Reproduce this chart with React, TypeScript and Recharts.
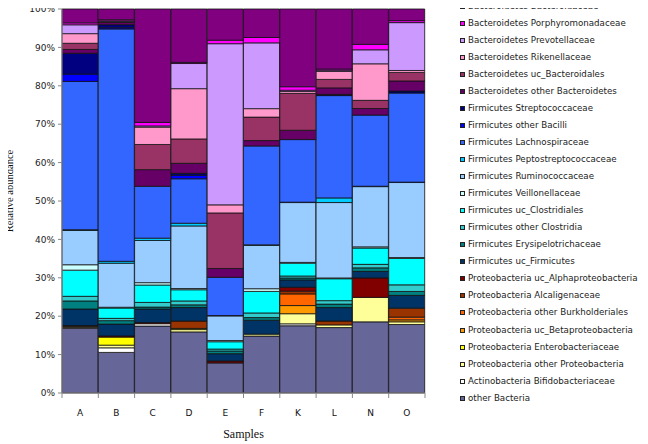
import React from 'react';
import { BarChart, Bar, XAxis, YAxis, Label } from 'recharts';

const categories = ['A', 'B', 'C', 'D', 'E', 'F', 'K', 'L', 'N', 'O'];

// values (%) per sample, in category order
const otherBacteria = [16.8, 10.6, 17.3, 15.8, 7.8, 14.8, 17.3, 17.0, 18.3, 17.6];
const bifidobacteriaceae = [0.2, 1.2, 0.6, 0, 0, 0, 0.5, 0, 0, 0];
const otherProteobacteria = [0.3, 0.7, 0, 0.6, 0, 0.5, 2.6, 0.7, 6.3, 0.7];
const enterobacteriaceae = [0, 2.1, 0, 0.3, 0, 0, 0, 0, 0, 0];
const ucBetaproteobacteria = [0, 0, 0, 0, 0, 0, 2.1, 0, 0, 0.5];
const otherBurkholderiales = [0, 0, 0, 0, 0, 0, 3.0, 0, 0, 0.7];
const alcaligenaceae = [0, 0, 0, 1.9, 0, 0, 0.7, 1.0, 0, 2.3];
const ucAlphaproteobacteria = [0.2, 0.3, 0.3, 0, 0.5, 0, 1.0, 0, 5.0, 0];
const ucFirmicutes = [4.3, 3.1, 3.5, 3.5, 1.9, 3.6, 1.9, 3.5, 1.7, 3.3];
const erysipelotrichaceae = [2.1, 0.9, 0.5, 0.7, 0.7, 0.7, 0.5, 0.9, 0.9, 1.0];
const otherClostridia = [1.2, 0.6, 1.2, 1.0, 0.5, 1.2, 0.5, 0.9, 0.9, 1.7];
const ucClostridiales = [6.8, 2.7, 4.5, 2.9, 1.9, 5.6, 3.3, 5.7, 4.2, 6.8];
const veillonellaceae = [1.4, 0.2, 0.6, 0.3, 0.3, 0.7, 0.2, 0.2, 0.3, 0.2];
const ruminococcaceae = [8.9, 11.5, 10.9, 16.2, 6.4, 11.3, 15.4, 19.6, 15.5, 19.3];
const peptostreptococcaceae = [0.2, 0.5, 0.6, 0.7, 0.1, 0.1, 0.1, 1.2, 0.1, 0.1];
const lachnospiraceae = [38.5, 60.7, 13.4, 11.5, 9.9, 25.7, 16.1, 26.6, 18.3, 22.9];
const otherBacilli = [1.9, 0.3, 0, 0.9, 0, 0, 0, 0, 0, 0];
const streptococcaceae = [5.4, 0.8, 0, 0.5, 0, 0, 0, 0.3, 0, 0.5];
const otherBacteroidetes = [1.0, 0.6, 4.3, 2.6, 2.3, 1.4, 2.4, 1.7, 1.7, 2.6];
const ucBacteroidales = [1.6, 0.2, 6.5, 6.3, 14.4, 6.1, 9.5, 2.2, 2.1, 2.2];
const rikenellaceae = [2.5, 0, 4.5, 13.0, 2.1, 2.2, 0.5, 2.1, 9.4, 0.5];
const prevotellaceae = [2.3, 0.2, 0.3, 6.5, 41.8, 17.1, 0.3, 0.3, 3.6, 12.3];
const porphyromonadaceae = [0.5, 0.3, 0.9, 0.3, 0.9, 1.4, 0.9, 0.3, 1.4, 0.5];
const bacteroidaceae = [3.6, 2.8, 29.3, 13.8, 8.1, 7.4, 20.0, 15.6, 9.1, 3.0];

// stack order: bottom to top
const seriesNames = [
  'other Bacteria',
  'Actinobacteria Bifidobacteriaceae',
  'Proteobacteria other Proteobacteria',
  'Proteobacteria Enterobacteriaceae',
  'Proteobacteria uc_Betaproteobacteria',
  'Proteobacteria other Burkholderiales',
  'Proteobacteria Alcaligenaceae',
  'Proteobacteria uc_Alphaproteobacteria',
  'Firmicutes uc_Firmicutes',
  'Firmicutes Erysipelotrichaceae',
  'Firmicutes other Clostridia',
  'Firmicutes uc_Clostridiales',
  'Firmicutes Veillonellaceae',
  'Firmicutes Ruminococcaceae',
  'Firmicutes Peptostreptococcaceae',
  'Firmicutes Lachnospiraceae',
  'Firmicutes other Bacilli',
  'Firmicutes Streptococcaceae',
  'Bacteroidetes other Bacteroidetes',
  'Bacteroidetes uc_Bacteroidales',
  'Bacteroidetes Rikenellaceae',
  'Bacteroidetes Prevotellaceae',
  'Bacteroidetes Porphyromonadaceae',
  'Bacteroidetes Bacteroidaceae',
];

const seriesValues = [
  otherBacteria, bifidobacteriaceae, otherProteobacteria, enterobacteriaceae,
  ucBetaproteobacteria, otherBurkholderiales, alcaligenaceae, ucAlphaproteobacteria,
  ucFirmicutes, erysipelotrichaceae, otherClostridia, ucClostridiales,
  veillonellaceae, ruminococcaceae, peptostreptococcaceae, lachnospiraceae,
  otherBacilli, streptococcaceae, otherBacteroidetes, ucBacteroidales,
  rikenellaceae, prevotellaceae, porphyromonadaceae, bacteroidaceae,
];

const seriesColors = [
  '#666699', '#FFFFFF', '#FFFF99', '#FFFF00', '#FF9900', '#FF6600', '#993300', '#800000',
  '#003366', '#008080', '#33CCCC', '#00FFFF', '#CCFFFF', '#99CCFF', '#00CCFF', '#3366FF',
  '#0000FF', '#000080', '#660066', '#993366', '#FF99CC', '#CC99FF', '#FF00FF', '#800080',
];

const yTicks = [0, 0.1, 0.2, 0.3, 0.4, 0.5, 0.6, 0.7, 0.8, 0.9, 1];

const data = categories.map((c, i) => {
  const row: Record<string, any> = { name: c };
  seriesNames.forEach((s, j) => {
    row['s' + j] = seriesValues[j][i];
  });
  return row;
});

const W = 648;
const H = 444;
const MARGIN = { top: 9, right: 223, bottom: 0, left: 8 };
const Y_AXIS_W = 54;
const X_AXIS_H = 51;
const PLOT_W = W - MARGIN.left - MARGIN.right - Y_AXIS_W;
const BAND = PLOT_W / categories.length;
const AXIS_COLOR = '#888888';
const SANS = 'DejaVu Sans, Verdana, sans-serif';
const SERIF = 'Liberation Serif, Times New Roman, serif';

const XTick = (props: any) => {
  const { x, y, payload, index } = props;
  const last = index === categories.length - 1;
  return (
    <g>
      <line x1={x - BAND / 2} x2={x - BAND / 2} y1={y} y2={y + 5} stroke={AXIS_COLOR} />
      {last && <line x1={x + BAND / 2} x2={x + BAND / 2} y1={y} y2={y + 5} stroke={AXIS_COLOR} />}
      <text x={x} y={y + 23} textAnchor="middle" fontFamily={SANS} fontSize={9} fill="#111">
        {payload.value}
      </text>
    </g>
  );
};

const YTitle = (props: any) => {
  const vb = props.viewBox || { y: 9, height: 384 };
  const cy = vb.y + vb.height / 2 - 10;
  return (
    <text
      transform={`translate(12.5, ${cy}) rotate(-90)`}
      textAnchor="middle"
      fontFamily={SERIF}
      fontSize={10.5}
      fill="#111"
    >
      Relative abundance
    </text>
  );
};

const legendItems = seriesNames.map((n, i) => ({ name: n, color: seriesColors[i] })).reverse();

export default function App() {
  return (
    <div style={{ position: 'relative', width: W, height: H, margin: '-8px 0 0 -8px' }}>
      <BarChart
        width={W}
        height={H}
        data={data}
        margin={MARGIN}
        stackOffset="expand"
        barCategoryGap={0}
        barGap={0}
      >
        <XAxis
          dataKey="name"
          height={X_AXIS_H}
          tickLine={false}
          tickSize={0}
          tickMargin={0}
          axisLine={{ stroke: AXIS_COLOR }}
          tick={<XTick />}
          interval={0}
        >
          <Label
            value="Samples"
            position="insideBottom"
            offset={6}
            style={{ fontFamily: SERIF, fontSize: 12, fill: '#111' }}
          />
        </XAxis>
        <YAxis
          width={Y_AXIS_W}
          domain={[0, 1]}
          ticks={yTicks}
          tickFormatter={(v: number) => Math.round(v * 100) + '%'}
          tickSize={4}
          tickMargin={3}
          tickLine={{ stroke: AXIS_COLOR }}
          axisLine={{ stroke: AXIS_COLOR }}
          tick={{ fontFamily: SANS, fontSize: 9, fill: '#222' }}
          interval={0}
        >
          <Label content={<YTitle />} />
        </YAxis>
        {seriesNames.map((s, j) => (
          <Bar
            key={s}
            dataKey={'s' + j}
            name={s}
            stackId="a"
            fill={seriesColors[j]}
            stroke="#111"
            strokeWidth={0.8}
            isAnimationActive={false}
          />
        ))}
      </BarChart>
      <div
        style={{
          position: 'absolute',
          left: 460,
          top: -1.8,
          fontFamily: SANS,
          fontSize: 8.7,
          color: '#222',
          whiteSpace: 'nowrap',
        }}
      >
        {legendItems.map((it) => (
          <div key={it.name} style={{ height: 17.03, lineHeight: '17.03px', display: 'flex', alignItems: 'center' }}>
            <span
              style={{
                display: 'inline-block',
                width: 3,
                height: 3,
                border: '1px solid #222',
                background: it.color,
                marginRight: 3,
                flexShrink: 0,
              }}
            />
            <span>{it.name}</span>
          </div>
        ))}
      </div>
    </div>
  );
}
